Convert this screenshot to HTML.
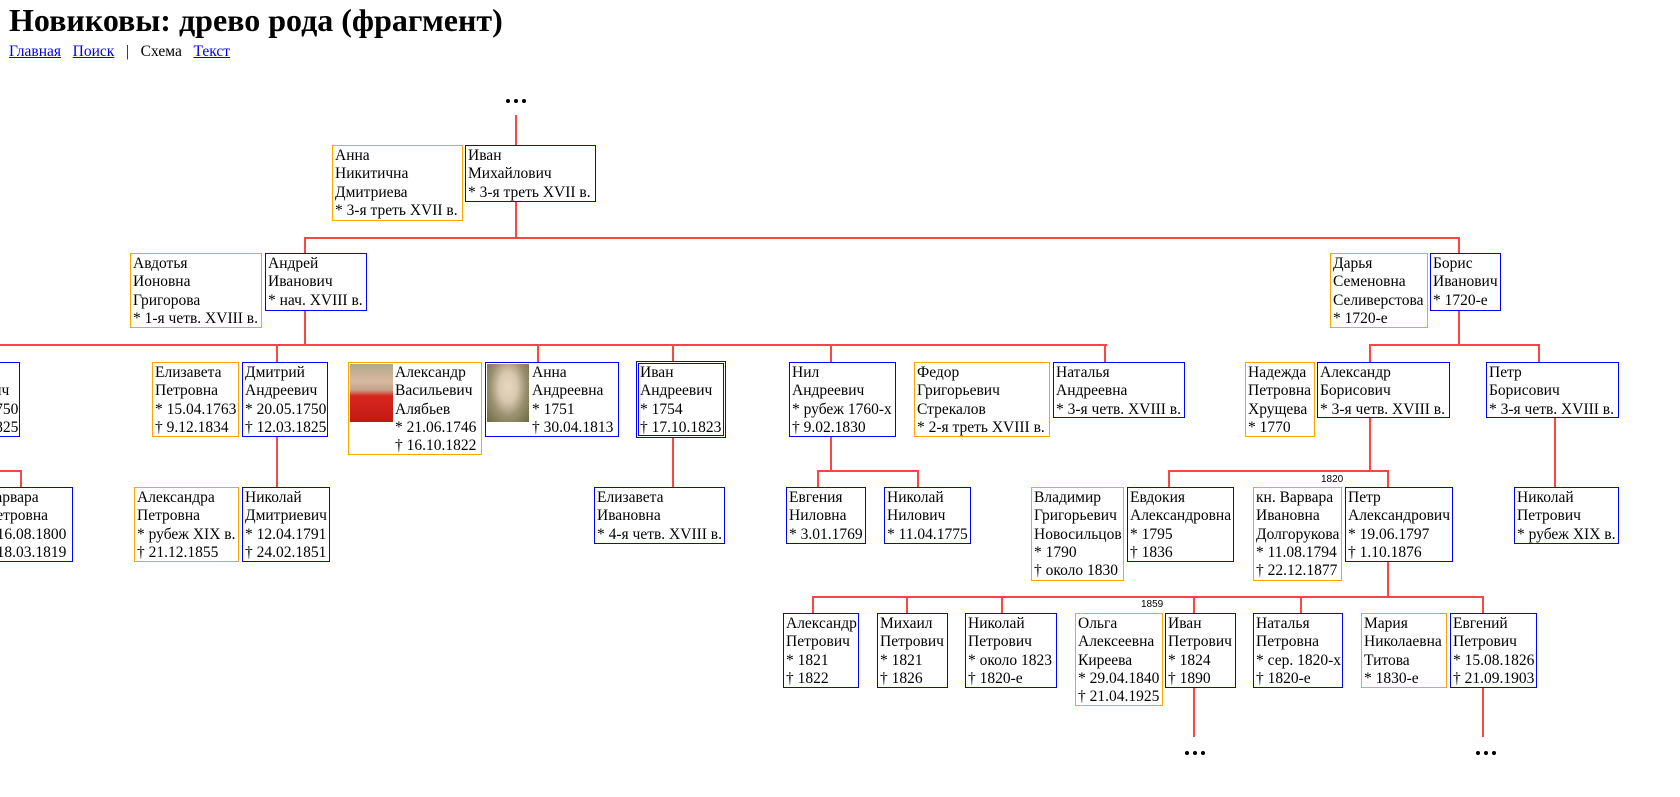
<!DOCTYPE html>
<html><head><meta charset="utf-8">
<style>
html,body{margin:0;padding:0;width:1680px;height:797px;overflow:hidden;background:#fff;position:relative}
body{font-family:"Liberation Serif","DejaVu Serif",serif}
h1{position:absolute;left:9px;top:2px;margin:0;font-size:32px;font-weight:bold;white-space:nowrap}
.nav{position:absolute;left:9px;top:43px;font-size:15.5px;white-space:nowrap}
.nav a{color:#00e;text-decoration:underline}
.b{position:absolute;box-sizing:border-box;border:1px solid #00f;font-size:15.5px;line-height:18.3px;padding:1px 2px;white-space:nowrap;overflow:hidden;background:#fff}
.o{border-color:#ffa500}
.d{border:3px double #00f}
.h{position:absolute;height:2px;background:#f44}
.v{position:absolute;width:2px;background:#f44}
.dots{position:absolute;width:22px;height:4px}
.dots i{position:absolute;top:0;width:4px;height:4px;border-radius:50%;background:#000}
.lab{position:absolute;font-family:"Liberation Sans",sans-serif;font-size:10px}
.ph{position:absolute}
</style></head><body>
<h1>Новиковы: древо рода (фрагмент)</h1>
<div class="nav"><a>Главная</a>&nbsp;&nbsp; <a>Поиск</a> &nbsp;&nbsp;|&nbsp;&nbsp; Схема&nbsp;&nbsp; <a>Текст</a></div>

<div class="dots" style="left:506px;top:99px"><i style="left:0"></i><i style="left:8px"></i><i style="left:16px"></i></div>
<div class="dots" style="left:1185px;top:751px"><i style="left:0"></i><i style="left:8px"></i><i style="left:16px"></i></div>
<div class="dots" style="left:1476px;top:751px"><i style="left:0"></i><i style="left:8px"></i><i style="left:16px"></i></div>

<!-- lines -->
<div class="v" style="left:515px;top:115px;height:30px"></div>
<div class="v" style="left:515px;top:202px;height:37px"></div>
<div class="h" style="left:304px;top:237px;width:1156px"></div>
<div class="v" style="left:304px;top:237px;height:16px"></div>
<div class="v" style="left:1458px;top:237px;height:16px"></div>
<div class="v" style="left:304px;top:311px;height:35px"></div>
<div class="h" style="left:0px;top:344px;width:1107px"></div>
<div class="v" style="left:276px;top:344px;height:18px"></div>
<div class="v" style="left:537px;top:344px;height:18px"></div>
<div class="v" style="left:672px;top:344px;height:18px"></div>
<div class="v" style="left:830px;top:344px;height:18px"></div>
<div class="v" style="left:1104px;top:344px;height:18px"></div>
<div class="v" style="left:1458px;top:311px;height:35px"></div>
<div class="h" style="left:1369px;top:344px;width:171px"></div>
<div class="v" style="left:1369px;top:344px;height:18px"></div>
<div class="v" style="left:1538px;top:344px;height:18px"></div>

<div class="h" style="left:0px;top:470px;width:22px"></div>
<div class="v" style="left:20px;top:470px;height:17px"></div>
<div class="v" style="left:276px;top:436px;height:51px"></div>
<div class="v" style="left:672px;top:436px;height:51px"></div>
<div class="v" style="left:830px;top:436px;height:35px"></div>
<div class="h" style="left:817px;top:470px;width:102px"></div>
<div class="v" style="left:817px;top:470px;height:17px"></div>
<div class="v" style="left:917px;top:470px;height:17px"></div>
<div class="v" style="left:1369px;top:418px;height:53px"></div>
<div class="h" style="left:1168px;top:470px;width:221px"></div>
<div class="v" style="left:1168px;top:470px;height:17px"></div>
<div class="v" style="left:1387px;top:470px;height:17px"></div>
<div class="v" style="left:1554px;top:418px;height:69px"></div>
<div class="lab" style="left:1321px;top:474px">1820</div>

<div class="v" style="left:1387px;top:562px;height:35px"></div>
<div class="h" style="left:812px;top:596px;width:672px"></div>
<div class="v" style="left:812px;top:596px;height:17px"></div>
<div class="v" style="left:906px;top:596px;height:17px"></div>
<div class="v" style="left:1001px;top:596px;height:17px"></div>
<div class="v" style="left:1193px;top:596px;height:17px"></div>
<div class="v" style="left:1300px;top:596px;height:17px"></div>
<div class="v" style="left:1482px;top:596px;height:17px"></div>
<div class="v" style="left:1193px;top:688px;height:49px"></div>
<div class="v" style="left:1482px;top:688px;height:49px"></div>
<div class="lab" style="left:1141px;top:599px">1859</div>

<!-- row 1 -->
<div class="b o" style="left:332px;top:145px;width:131px;height:76px">Анна<br>Никитична<br>Дмитриева<br>* 3-я треть XVII в.</div>
<div class="b" style="left:465px;top:145px;width:131px;height:57px">Иван<br>Михайлович<br>* 3-я треть XVII в.</div>

<!-- row 2 -->
<div class="b o" style="left:130px;top:253px;width:132px;height:75px">Авдотья<br>Ионовна<br>Григорова<br>* 1-я четв. XVIII в.</div>
<div class="b" style="left:265px;top:253px;width:102px;height:58px">Андрей<br>Иванович<br>* нач. XVIII в.</div>
<div class="b o" style="left:1330px;top:253px;width:98px;height:75px">Дарья<br>Семеновна<br>Селиверстова<br>* 1720-е</div>
<div class="b" style="left:1430px;top:253px;width:71px;height:58px">Борис<br>Иванович<br>* 1720-е</div>

<!-- row 3 -->
<div class="b" style="left:-66px;top:362px;width:86px;height:75px">Петр<br>Андреевич<br>* 20.05.1750<br>† 12.03.1825</div>
<div class="b o" style="left:152px;top:362px;width:87px;height:75px">Елизавета<br>Петровна<br>* 15.04.1763<br>† 9.12.1834</div>
<div class="b" style="left:242px;top:362px;width:86px;height:75px">Дмитрий<br>Андреевич<br>* 20.05.1750<br>† 12.03.1825</div>
<div class="b o" style="left:348px;top:362px;width:134px;height:93px;padding-left:46px">Александр<br>Васильевич<br>Алябьев<br>* 21.06.1746<br>† 16.10.1822</div>
<div class="ph" style="left:350px;top:364px;width:43px;height:58px;background:linear-gradient(#b0a88a 0,#d9b9a0 30%,#c4a08a 45%,#d8261e 55%,#c01a14 100%)"></div>
<div class="b" style="left:485px;top:362px;width:134px;height:75px;padding-left:46px">Анна<br>Андреевна<br>* 1751<br>† 30.04.1813</div>
<div class="ph" style="left:487px;top:364px;width:42px;height:58px;background:radial-gradient(ellipse at 50% 40%,#e8d8c0 0,#d8c8b0 30%,#9a9070 60%,#6a6a40 100%)"></div>
<div class="b d" style="left:636px;top:361px;width:90px;height:77px;padding:0 1px">Иван<br>Андреевич<br>* 1754<br>† 17.10.1823</div>
<div class="b" style="left:789px;top:362px;width:107px;height:75px">Нил<br>Андреевич<br>* рубеж 1760-х<br>† 9.02.1830</div>
<div class="b o" style="left:914px;top:362px;width:136px;height:75px">Федор<br>Григорьевич<br>Стрекалов<br>* 2-я треть XVIII в.</div>
<div class="b" style="left:1053px;top:362px;width:132px;height:56px">Наталья<br>Андреевна<br>* 3-я четв. XVIII в.</div>
<div class="b o" style="left:1245px;top:362px;width:70px;height:75px">Надежда<br>Петровна<br>Хрущева<br>* 1770</div>
<div class="b" style="left:1317px;top:362px;width:133px;height:56px">Александр<br>Борисович<br>* 3-я четв. XVIII в.</div>
<div class="b" style="left:1486px;top:362px;width:133px;height:56px">Петр<br>Борисович<br>* 3-я четв. XVIII в.</div>

<!-- row 4 -->
<div class="b" style="left:-18px;top:487px;width:91px;height:75px">Варвара<br>Петровна<br>* 16.08.1800<br>† 18.03.1819</div>
<div class="b o" style="left:134px;top:487px;width:105px;height:75px">Александра<br>Петровна<br>* рубеж XIX в.<br>† 21.12.1855</div>
<div class="b" style="left:242px;top:487px;width:88px;height:75px">Николай<br>Дмитриевич<br>* 12.04.1791<br>† 24.02.1851</div>
<div class="b" style="left:594px;top:487px;width:131px;height:57px">Елизавета<br>Ивановна<br>* 4-я четв. XVIII в.</div>
<div class="b" style="left:786px;top:487px;width:80px;height:57px">Евгения<br>Ниловна<br>* 3.01.1769</div>
<div class="b" style="left:884px;top:487px;width:87px;height:57px">Николай<br>Нилович<br>* 11.04.1775</div>
<div class="b o" style="left:1031px;top:487px;width:93px;height:94px">Владимир<br>Григорьевич<br>Новосильцов<br>* 1790<br>† около 1830</div>
<div class="b" style="left:1127px;top:487px;width:107px;height:75px">Евдокия<br>Александровна<br>* 1795<br>† 1836</div>
<div class="b o" style="left:1253px;top:487px;width:89px;height:94px">кн. Варвара<br>Ивановна<br>Долгорукова<br>* 11.08.1794<br>† 22.12.1877</div>
<div class="b" style="left:1345px;top:487px;width:108px;height:75px">Петр<br>Александрович<br>* 19.06.1797<br>† 1.10.1876</div>
<div class="b" style="left:1514px;top:487px;width:105px;height:57px">Николай<br>Петрович<br>* рубеж XIX в.</div>

<!-- row 5 -->
<div class="b" style="left:783px;top:613px;width:76px;height:75px">Александр<br>Петрович<br>* 1821<br>† 1822</div>
<div class="b" style="left:877px;top:613px;width:71px;height:75px">Михаил<br>Петрович<br>* 1821<br>† 1826</div>
<div class="b" style="left:965px;top:613px;width:92px;height:75px">Николай<br>Петрович<br>* около 1823<br>† 1820-е</div>
<div class="b o" style="left:1075px;top:613px;width:88px;height:93px">Ольга<br>Алексеевна<br>Киреева<br>* 29.04.1840<br>† 21.04.1925</div>
<div class="b" style="left:1165px;top:613px;width:71px;height:75px">Иван<br>Петрович<br>* 1824<br>† 1890</div>
<div class="b" style="left:1253px;top:613px;width:90px;height:75px">Наталья<br>Петровна<br>* сер. 1820-х<br>† 1820-е</div>
<div class="b o" style="left:1361px;top:613px;width:86px;height:75px">Мария<br>Николаевна<br>Титова<br>* 1830-е</div>
<div class="b" style="left:1450px;top:613px;width:87px;height:75px">Евгений<br>Петрович<br>* 15.08.1826<br>† 21.09.1903</div>
</body></html>
